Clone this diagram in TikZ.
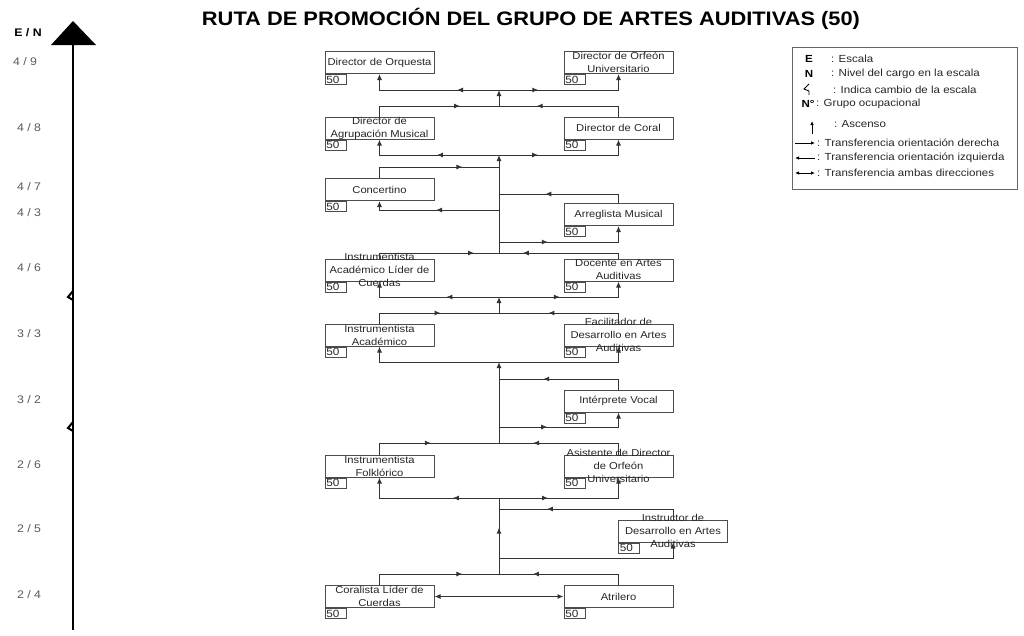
\documentclass[tikz,border=0pt]{standalone}
\usepackage{fontspec}
\setmainfont[FakeStretch=1.12]{Liberation Sans}
\usetikzlibrary{arrows.meta,positioning,decorations.markings}

\tikzset{
  cargo/.style={draw=black!70, line width=1pt, minimum width=109pt, minimum height=22pt, inner sep=0pt},
  txt/.style={inner sep=0pt, align=center, text=black!85, font=\fontsize{10}{13}\selectfont},
  grupo/.style={draw=black!70, line width=0.9pt, minimum height=10pt, text width=18pt, inner xsep=1.5pt, inner ysep=0pt, align=left, text=black!85, font=\fontsize{10.5}{9}\selectfont},
  linea/.style={draw=black!80, line width=1pt},
  sube/.style={-{Latex[length=6pt,width=5pt]}},
  flecha/.style={postaction={decorate}, decoration={markings, mark=at position #1 with {\arrow{Latex[length=6pt,width=5pt]}}}},
  nivel/.style={text=black!65, font=\fontsize{11}{11}\selectfont},
  ley/.style={anchor=west, inner sep=0pt, text=black!85, font=\fontsize{10.3}{10.3}\selectfont},
}

\begin{document}
\begin{tikzpicture}[x=1pt,y=-1pt]
  \useasboundingbox (0,0) rectangle (1024,635);

  %% title
  \node[font=\bfseries\fontsize{19.5}{19.5}\selectfont] (titulo) at (531,19) {RUTA DE PROMOCIÓN DEL GRUPO DE ARTES AUDITIVAS (50)};

  %% scale axis
  \draw[line width=2.5pt] (73,630) -- (73,40);
  \fill (73,21) -- (51,45) -- (96,45) -- cycle;
  \draw[line width=2pt] (73,291) -- (68,297) -- (73,300);
  \draw[line width=2pt] (73,422) -- (68,428) -- (73,431);
  \node[font=\bfseries\fontsize{11}{11}\selectfont] (en) at (28,33) {E / N};
  \node[nivel] (n49) at (25,62) {4 / 9};
  \node[nivel] (n48) at (29,128) {4 / 8};
  \node[nivel] (n47) at (29,187) {4 / 7};
  \node[nivel] (n43) at (29,213) {4 / 3};
  \node[nivel] (n46) at (29,268) {4 / 6};
  \node[nivel] (n33) at (29,334) {3 / 3};
  \node[nivel] (n32) at (29,400) {3 / 2};
  \node[nivel] (n26) at (29,465) {2 / 6};
  \node[nivel] (n25) at (29,529) {2 / 5};
  \node[nivel] (n24) at (29,595) {2 / 4};

  %% posts
  \node[cargo, label={[txt]center:Director de Orquesta}] (orquesta) at (379.5,62.5) {};
  \node[cargo, label={[txt]center:{Director de Orfeón\\Universitario}}] (orfeon) at (618.5,62.5) {};
  \node[cargo, label={[txt]center:{Director de\\Agrupación Musical}}] (agrupacion) at (379.5,128) {};
  \node[cargo, label={[txt]center:Director de Coral}] (coral) at (618.5,128) {};
  \node[cargo, label={[txt]center:Concertino}] (concertino) at (379.5,189.5) {};
  \node[cargo, label={[txt]center:Arreglista Musical}] (arreglista) at (618.5,214.5) {};
  \node[cargo, label={[txt]center:{Instrumentista\\Académico Líder de\\Cuerdas}}] (liderc) at (379.5,270) {};
  \node[cargo, label={[txt]center:{Docente en Artes\\Auditivas}}] (docente) at (618.5,270) {};
  \node[cargo, label={[txt]center:{Instrumentista\\Académico}}] (academico) at (379.5,335) {};
  \node[cargo, label={[txt]center:{Facilitador de\\Desarrollo en Artes\\Auditivas}}] (facilitador) at (618.5,335) {};
  \node[cargo, label={[txt]center:Intérprete Vocal}] (interprete) at (618.5,401) {};
  \node[cargo, label={[txt]center:{Instrumentista\\Folklórico}}] (folklorico) at (379.5,466) {};
  \node[cargo, label={[txt]center:{Asistente de Director\\de Orfeón\\Universitario}}] (asistente) at (618.5,466) {};
  \node[cargo, label={[txt]center:{Instructor de\\Desarrollo en Artes\\Auditivas}}] (instructor) at (673,531) {};
  \node[cargo, label={[txt]center:{Coralista Líder de\\Cuerdas}}] (coralista) at (379.5,596.5) {};
  \node[cargo, label={[txt]center:Atrilero}] (atrilero) at (618.5,596.5) {};

  %% occupational group
  \foreach \c in {orquesta,orfeon,agrupacion,coral,concertino,arreglista,liderc,docente,academico,facilitador,interprete,folklorico,asistente,instructor,coralista,atrilero}
    \node[grupo, below right=0pt of \c.south west] (g\c) {50};

  %% trunk junctions
  \foreach \y in {90,106,155,167,194,210,242,253,297,313,362,379,427,443,498,509,558,574}
    \coordinate (t\y) at (499,\y);

  %% ascent along the trunk
  \draw[linea, sube] (t106) -- (t90);
  \draw[linea, sube] (t253) -- (t155);
  \draw[linea, sube] (t313) -- (t297);
  \draw[linea, sube] (t443) -- (t362);
  \draw[linea, flecha=0.61] (t574) -- (t498);

  %% from trunk to posts
  \draw[linea, sube, flecha=0.31] (t90) -| (orquesta.south);
  \draw[linea, sube, flecha=0.29] (t90) -| (orfeon.south);
  \draw[linea, sube, flecha=0.46] (t155) -| (agrupacion.south);
  \draw[linea, sube, flecha=0.29] (t155) -| (coral.south);
  \draw[linea, sube, flecha=0.49] (t210) -| (concertino.south);
  \draw[linea, sube, flecha=0.36] (t242) -| (arreglista.south);
  \draw[linea, sube, flecha=0.39] (t297) -| (liderc.south);
  \draw[linea, sube, flecha=0.45] (t297) -| (docente.south);
  \draw[linea, sube] (t362) -| (academico.south);
  \draw[linea, sube] (t362) -| (facilitador.south);
  \draw[linea, sube, flecha=0.36] (t427) -| (interprete.south);
  \draw[linea, sube, flecha=0.33] (t498) -| (folklorico.south);
  \draw[linea, sube, flecha=0.35] (t498) -| (asistente.south);
  \draw[linea, sube] (t558) -| (instructor.south);

  %% from posts to trunk
  \draw[linea, flecha=0.70] (agrupacion.north) |- (t106);
  \draw[linea, flecha=0.71] (coral.north) |- (t106);
  \draw[linea, flecha=0.72] (concertino.north) |- (t167);
  \draw[linea, flecha=0.64] (arreglista.north) |- (t194);
  \draw[linea, flecha=0.80] (liderc.north) |- (t253);
  \draw[linea, flecha=0.81] (docente.north) |- (t253);
  \draw[linea, flecha=0.55] (academico.north) |- (t313);
  \draw[linea, flecha=0.62] (facilitador.north) |- (t313);
  \draw[linea, flecha=0.66] (interprete.north) |- (t379);
  \draw[linea, flecha=0.48] (folklorico.north) |- (t443);
  \draw[linea, flecha=0.74] (asistente.north) |- (t443);
  \draw[linea, flecha=0.74] (instructor.north) |- (t509);
  \draw[linea, flecha=0.72] (coralista.north) |- (t574);
  \draw[linea, flecha=0.74] (atrilero.north) |- (t574);
  \draw[linea, {Latex[length=6pt,width=5pt]}-{Latex[length=6pt,width=5pt]}] (coralista.east) -- (atrilero.west);

  %% legend
  \draw[draw=black!60, line width=0.8pt] (792,47) rectangle (1017,189);
  \node[font=\bfseries\fontsize{10.3}{10.3}\selectfont] (le) at (809,59) {E};
  \node[ley] (le1) at (831,59) {: Escala};
  \node[font=\bfseries\fontsize{10.3}{10.3}\selectfont] (ln) at (809,74) {N};
  \node[ley] (ln1) at (831,74) {: Nivel del cargo en la escala};
  \draw[line width=0.9pt] (809,84) -- (804,89) -- (809,91) -- (809,95);
  \node[ley] (lc1) at (833,90) {: Indica cambio de la escala};
  \node[font=\bfseries\fontsize{10.3}{10.3}\selectfont] (lg) at (808,104) {N°};
  \node[ley] (lg1) at (816,104) {: Grupo ocupacional};
  \draw[line width=0.9pt, -{Latex[length=4pt,width=3.5pt]}] (812,134) -- (812,121);
  \node[ley] (la1) at (834,124) {: Ascenso};
  \draw[line width=0.9pt, -{Latex[length=4pt,width=3.5pt]}] (795,143) -- (815,143);
  \node[ley] (lt1) at (817,143) {: Transferencia orientación derecha};
  \draw[line width=0.9pt, {Latex[length=4pt,width=3.5pt]}-] (795,158) -- (815,158);
  \node[ley] (lt2) at (817,158) {: Transferencia orientación izquierda};
  \draw[line width=0.9pt, {Latex[length=4pt,width=3.5pt]}-{Latex[length=4pt,width=3.5pt]}] (795,173) -- (815,173);
  \node[ley] (lt3) at (817,173) {: Transferencia ambas direcciones};
\end{tikzpicture}
\end{document}
